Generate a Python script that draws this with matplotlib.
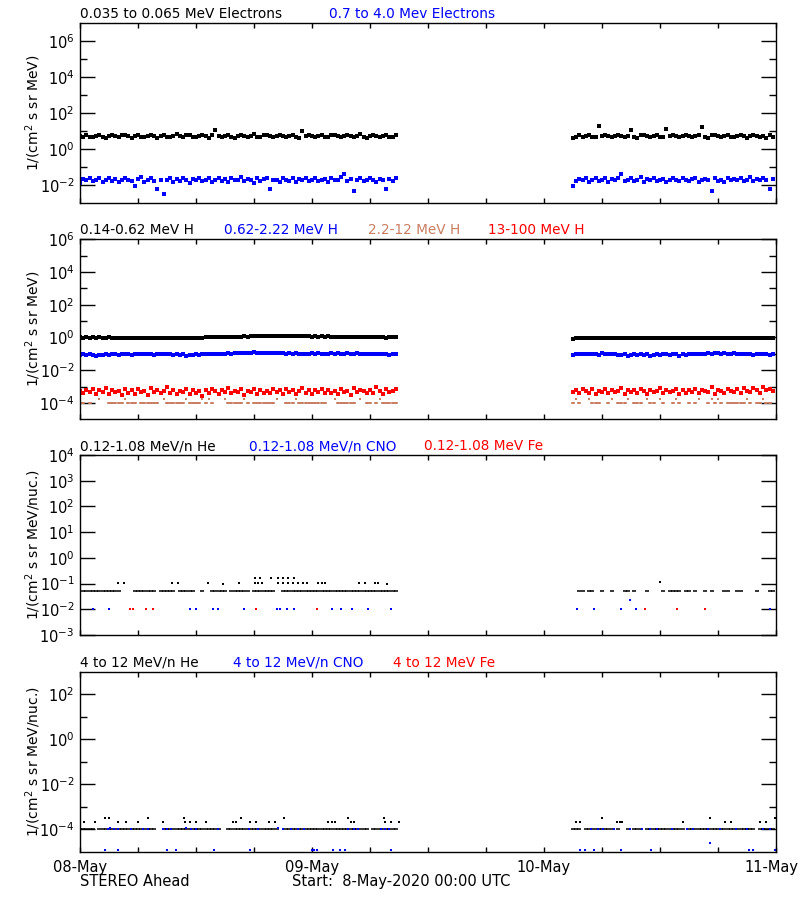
"""
STEREO Ahead in-situ particle fluxes, 08-May-2020 .. 11-May-2020.
Four stacked log panels in the style of the IDL summary plots.
"""
import numpy as np
import matplotlib
matplotlib.use("Agg")
import matplotlib.pyplot as plt
from matplotlib.ticker import FixedLocator, FuncFormatter, NullFormatter
from matplotlib.transforms import ScaledTranslation

# Time axis: hours since 08-May 00:00 UTC, 20 min cadence, two data intervals
N1, N2 = 99, 63
T1 = np.arange(N1) / 3.0
T2 = 51.0 + np.arange(N2) / 3.0

BROWN = "#c97d62"

# ---- panel 1: electrons ----------------------------------------------------
elec_lo_1 = [5.6, 4.9, 6.2, 5.1, 4.6, 5.8, 6.5, 5.0, 4.4, 5.5,
             6.1, 5.3, 4.8, 5.9, 6.6, 5.2, 4.5, 5.7, 6.3, 5.0,
             4.7, 5.4, 6.0, 5.6, 4.3, 5.8, 6.4, 5.1, 4.9, 5.5,
             6.8, 5.3, 4.6, 5.9, 6.2, 5.0, 4.8, 5.7, 6.5, 5.4,
             4.5, 6.0, 12.5, 5.2, 4.9, 5.6, 6.3, 5.1, 4.4, 5.8,
             6.1, 5.3, 4.7, 5.5, 6.7, 5.0, 4.8, 5.9, 6.2, 5.4,
             4.6, 5.7, 6.4, 5.2, 4.9, 5.6, 6.0, 5.1, 4.5, 11.0,
             5.8, 6.3, 5.3, 4.7, 5.5, 6.6, 5.0, 4.8, 5.9, 6.1,
             5.4, 4.6, 5.7, 6.4, 5.2, 4.9, 5.6, 7.2, 5.1, 4.5,
             5.8, 6.2, 5.3, 4.7, 5.5, 6.5, 5.0, 4.8, 5.9]
elec_lo_2 = [4.2, 5.1, 5.9, 4.8, 5.5, 6.2, 5.0, 4.6, 20.0, 5.7,
             6.3, 5.2, 4.7, 5.8, 6.0, 5.4, 4.9, 5.6, 11.8, 5.1,
             4.5, 5.9, 6.4, 5.3, 4.8, 5.5, 6.1, 5.0, 4.7, 13.5,
             5.8, 6.5, 5.2, 4.6, 5.7, 6.2, 5.4, 4.9, 5.6, 6.0,
             17.0, 5.1, 4.5, 5.9, 6.3, 5.3, 4.8, 5.5, 6.6, 5.0,
             4.7, 5.8, 6.1, 5.2, 4.4, 5.7, 6.4, 5.4, 4.9, 5.6,
             4.3, 5.9, 5.1]
elec_hi_1 = [0.014, 0.022, 0.019, 0.026, 0.017, 0.021, 0.024, 0.016, 0.020, 0.027,
             0.018, 0.023, 0.015, 0.021, 0.025, 0.019, 0.017, 0.009, 0.022, 0.028,
             0.016, 0.020, 0.024, 0.018, 0.0063, 0.021, 0.0035, 0.019, 0.026, 0.015,
             0.022, 0.018, 0.025, 0.020, 0.013, 0.023, 0.019, 0.027, 0.017, 0.021,
             0.024, 0.016, 0.020, 0.026, 0.018, 0.022, 0.015, 0.025, 0.019, 0.021,
             0.028, 0.017, 0.023, 0.020, 0.014, 0.024, 0.018, 0.022, 0.026, 0.0066,
             0.019, 0.021, 0.016, 0.025, 0.020, 0.018, 0.027, 0.015, 0.022, 0.019,
             0.024, 0.017, 0.021, 0.026, 0.018, 0.020, 0.023, 0.016, 0.025, 0.019,
             0.021, 0.028, 0.045, 0.018, 0.022, 0.0048, 0.020, 0.024, 0.017, 0.021,
             0.026, 0.019, 0.015, 0.023, 0.020, 0.0066, 0.022, 0.018, 0.025]
elec_hi_2 = [0.009, 0.017, 0.022, 0.019, 0.025, 0.016, 0.021, 0.024, 0.018, 0.020,
             0.027, 0.015, 0.022, 0.019, 0.026, 0.045, 0.018, 0.021, 0.024, 0.017,
             0.020, 0.028, 0.016, 0.022, 0.019, 0.025, 0.018, 0.021, 0.023, 0.015,
             0.020, 0.026, 0.019, 0.017, 0.024, 0.021, 0.018, 0.022, 0.027, 0.016,
             0.020, 0.023, 0.019, 0.0048, 0.025, 0.018, 0.021, 0.016, 0.024, 0.020,
             0.022, 0.019, 0.026, 0.017, 0.021, 0.030, 0.018, 0.023, 0.020, 0.025,
             0.019, 0.006, 0.022]

# ---- panel 2: protons ------------------------------------------------------
prot_lo_1 = [1.02, 0.98, 1.05, 0.96, 1.00, 0.97, 1.03, 0.95, 0.99, 1.01,
             0.96, 0.93, 0.98, 0.95, 0.97, 0.92, 0.96, 0.94, 0.99, 0.93,
             0.95, 0.97, 0.91, 0.96, 0.94, 0.98, 0.92, 0.95, 0.93, 0.97,
             0.90, 0.94, 0.96, 0.92, 0.98, 0.95, 0.93, 0.99, 0.96, 1.01,
             1.05, 1.08, 1.03, 1.10, 1.06, 1.12, 1.08, 1.05, 1.11, 1.07,
             1.13, 1.16, 1.12, 1.18, 1.15, 1.20, 1.17, 1.22, 1.19, 1.24,
             1.21, 1.18, 1.25, 1.20, 1.23, 1.17, 1.22, 1.19, 1.15, 1.21,
             1.16, 1.18, 1.13, 1.17, 1.14, 1.19, 1.12, 1.15, 1.10, 1.14,
             1.11, 1.08, 1.13, 1.09, 1.12, 1.06, 1.10, 1.07, 1.11, 1.05,
             1.09, 1.04, 1.08, 1.02, 1.06, 0.98, 1.03, 1.00, 1.10]
prot_lo_2 = [0.86, 0.90, 0.88, 0.92, 0.87, 0.91, 0.89, 0.93, 0.88, 0.90,
             0.94, 0.89, 0.92, 0.87, 0.95, 0.90, 0.93, 0.88, 0.91, 0.96,
             0.89, 0.92, 0.87, 0.94, 0.90, 0.93, 0.88, 0.95, 0.91, 0.89,
             0.93, 0.90, 0.96, 0.88, 0.92, 0.94, 0.89, 0.91, 0.95, 0.90,
             0.93, 0.87, 0.92, 0.96, 0.90, 0.94, 0.88, 0.91, 0.95, 0.89,
             0.93, 0.90, 0.97, 0.92, 0.88, 0.94, 0.91, 0.89, 0.93, 0.90,
             0.92, 0.88, 0.91]
prot_mid_1 = [0.085, 0.092, 0.080, 0.095, 0.088, 0.078, 0.090, 0.083, 0.096, 0.087,
              0.092, 0.098, 0.089, 0.101, 0.094, 0.097, 0.091, 0.103, 0.095, 0.099,
              0.093, 0.100, 0.096, 0.090, 0.098, 0.094, 0.102, 0.092, 0.097, 0.089,
              0.095, 0.088, 0.093, 0.079, 0.091, 0.087, 0.094, 0.090, 0.096, 0.092,
              0.098, 0.094, 0.101, 0.096, 0.104, 0.099, 0.107, 0.102, 0.110, 0.105,
              0.112, 0.108, 0.118, 0.113, 0.121, 0.116, 0.109, 0.115, 0.119, 0.112,
              0.108, 0.114, 0.105, 0.111, 0.103, 0.109, 0.100, 0.106, 0.098, 0.104,
              0.101, 0.097, 0.105, 0.099, 0.108, 0.102, 0.096, 0.104, 0.110, 0.100,
              0.106, 0.098, 0.103, 0.109, 0.101, 0.096, 0.105, 0.100, 0.094, 0.102,
              0.098, 0.104, 0.092, 0.100, 0.096, 0.102, 0.089, 0.097, 0.093]
prot_mid_2 = [0.088, 0.092, 0.095, 0.101, 0.097, 0.103, 0.094, 0.099, 0.091, 0.105,
              0.098, 0.093, 0.100, 0.096, 0.090, 0.087, 0.094, 0.072, 0.089, 0.095,
              0.091, 0.097, 0.086, 0.093, 0.075, 0.090, 0.096, 0.088, 0.094, 0.092,
              0.089, 0.099, 0.093, 0.076, 0.095, 0.091, 0.098, 0.094, 0.101, 0.097,
              0.104, 0.099, 0.107, 0.102, 0.109, 0.105, 0.100, 0.108, 0.103, 0.098,
              0.106, 0.101, 0.096, 0.103, 0.099, 0.094, 0.090, 0.097, 0.093, 0.099,
              0.095, 0.091, 0.096]
# 13-100 MeV H, in units of 1e-4
prot_hi_1 = [5.2, 3.8, 6.5, 4.4, 7.1, 3.5, 5.8, 4.9, 8.2, 3.3,
             6.0, 4.6, 5.4, 2.9, 7.5, 4.1, 5.9, 3.6, 6.8, 4.8,
             5.1, 3.2, 7.8, 4.5, 6.2, 3.9, 5.6, 9.0, 4.2, 6.4,
             3.4, 5.3, 4.7, 7.0, 3.7, 6.1, 4.3, 5.5, 2.8, 6.6,
             4.0, 7.3, 5.0, 3.5, 6.3, 4.6, 8.5, 3.9, 5.7, 4.4,
             6.9, 3.1, 5.2, 4.8, 7.6, 3.6, 6.0, 4.1, 5.4, 3.8,
             6.7, 4.5, 5.8, 3.3, 7.2, 4.9, 6.1, 3.7, 5.5, 8.0,
             4.2, 6.4, 3.5, 5.9, 4.6, 7.4, 3.9, 6.2, 4.3, 5.1,
             3.6, 6.8, 4.7, 5.6, 3.2, 7.7, 4.4, 6.0, 5.0, 3.8,
             6.5, 4.1, 9.5, 5.3, 3.4, 6.9, 4.8, 5.7, 7.0]
prot_hi_2 = [4.6, 6.2, 3.9, 7.4, 5.1, 4.3, 6.8, 3.6, 5.7, 4.9,
             7.1, 3.8, 6.0, 4.5, 5.4, 8.0, 3.4, 6.5, 4.7, 5.9,
             4.1, 7.3, 5.0, 3.7, 6.3, 4.4, 5.6, 8.4, 3.9, 6.1,
             4.8, 5.3, 7.6, 3.5, 6.6, 4.2, 5.8, 4.9, 7.0, 3.8,
             6.4, 5.1, 4.5, 8.8, 3.6, 6.2, 5.5, 4.0, 7.2, 5.0,
             4.6, 6.9, 3.9, 8.1, 5.3, 4.4, 7.7, 5.8, 4.1, 9.8,
             6.0, 7.4, 5.2]
# 2.2-12 MeV H: 0 = no data, 1 = one-count level, 2 = two-count level
prot_2to12_1 = [1, 1, 0, 1, 0, 0, 2, 0, 0, 1,
                1, 1, 1, 1, 2, 1, 1, 1, 0, 1,
                1, 1, 1, 1, 1, 0, 2, 1, 1, 1,
                1, 1, 1, 2, 1, 1, 1, 1, 2, 1,
                2, 1, 0, 0, 0, 2, 1, 1, 1, 1,
                1, 2, 1, 0, 1, 1, 1, 1, 1, 1,
                1, 2, 0, 0, 1, 1, 1, 2, 1, 1,
                1, 1, 1, 1, 1, 1, 1, 0, 0, 2,
                1, 1, 1, 1, 1, 1, 0, 2, 0, 1,
                1, 0, 1, 2, 1, 1, 1, 1, 1]
prot_2to12_2 = [1, 2, 1, 0, 0, 2, 1, 1, 1, 0,
                0, 1, 2, 0, 1, 1, 1, 2, 0, 1,
                1, 1, 0, 2, 1, 1, 0, 2, 1, 0,
                0, 1, 2, 1, 0, 0, 1, 0, 1, 2,
                0, 0, 1, 2, 1, 2, 1, 0, 1, 1,
                1, 1, 1, 1, 2, 1, 0, 1, 1, 2,
                1, 1, 0]
prot_2to12_levels = [np.nan, 0.95e-4, 1.8e-4]

# ---- panel 3: 0.12-1.08 MeV/n ions ------------------------------------------
he_lo_floor_1 = [0, 1, 1, 1, 1, 1, 1, 1, 1, 1,
                 1, 1, 1, 0, 0, 0, 0, 1, 1, 1,
                 1, 1, 1, 1, 0, 1, 1, 1, 1, 1,
                 0, 1, 1, 1, 1, 1, 0, 0, 1, 0,
                 0, 1, 1, 1, 1, 1, 0, 1, 1, 1,
                 1, 1, 1, 0, 1, 1, 1, 1, 1, 1,
                 1, 0, 0, 1, 1, 1, 1, 1, 1, 1,
                 1, 1, 1, 1, 1, 1, 1, 1, 1, 1,
                 1, 1, 1, 1, 1, 1, 1, 1, 1, 1,
                 1, 1, 1, 1, 1, 1, 1, 1, 1]
he_lo_floor_2 = [0, 0, 1, 1, 0, 1, 1, 0, 0, 1,
                 0, 0, 1, 0, 0, 0, 1, 1, 0, 1,
                 0, 0, 0, 1, 0, 0, 0, 0, 1, 0,
                 1, 1, 1, 1, 0, 1, 1, 0, 1, 0,
                 0, 1, 0, 1, 0, 0, 0, 1, 1, 0,
                 0, 1, 1, 0, 0, 0, 0, 1, 0, 0,
                 0, 1, 1]
he_lo_floor_level = 0.053
he_lo_peak_t = [3.9, 4.5, 9.5, 10.1, 13.2, 14.8, 16.4, 18.1, 18.4, 18.8,
                20.5, 21.0, 21.5, 22.0, 22.6, 23.1, 23.5, 24.6, 25.0, 25.3,
                28.9, 29.5, 30.5, 30.8, 31.8, 60.0,
                18.1, 18.6, 19.8, 20.5, 21.0, 21.5, 22.1]
he_lo_peak_v = [0.11, 0.11, 0.11, 0.11, 0.11, 0.10, 0.11, 0.11, 0.11, 0.11,
                0.11, 0.11, 0.11, 0.11, 0.11, 0.11, 0.11, 0.11, 0.11, 0.11,
                0.11, 0.11, 0.11, 0.11, 0.10, 0.12,
                0.17, 0.16, 0.17, 0.17, 0.17, 0.17, 0.17]
cno_lo_t = [1.3, 3.0, 11.4, 12.0, 13.8, 14.3, 17.0, 20.4, 20.7, 21.4,
            22.1, 26.1, 27.0, 28.1, 29.8, 32.2, 51.4, 53.2, 56.0, 56.9,
            57.5, 71.4]
cno_lo_v = [0.0107] * 19 + [0.023, 0.0107, 0.0107]
fe_lo_t = [5.2, 5.5, 6.8, 7.5, 18.2, 24.5, 58.4, 61.8, 64.7]
fe_lo_v = [0.0107] * 9

# ---- panel 4: 4-12 MeV/n ions -----------------------------------------------
he_hi_floor_1 = [1, 1, 1, 1, 1, 0, 1, 1, 1, 1,
                 1, 1, 1, 1, 1, 1, 1, 1, 1, 1,
                 1, 1, 1, 1, 0, 0, 1, 1, 1, 1,
                 1, 1, 1, 1, 1, 1, 1, 1, 1, 1,
                 1, 1, 1, 1, 0, 0, 1, 1, 1, 1,
                 1, 1, 1, 1, 1, 1, 1, 1, 1, 1,
                 1, 1, 0, 0, 1, 1, 1, 1, 1, 1,
                 1, 1, 1, 1, 1, 1, 1, 1, 1, 1,
                 1, 1, 1, 1, 1, 1, 1, 1, 1, 1,
                 0, 1, 1, 1, 1, 1, 1, 1, 1]
he_hi_floor_2 = [1, 1, 1, 0, 1, 1, 1, 1, 1, 1,
                 1, 1, 1, 0, 1, 0, 0, 1, 0, 1,
                 1, 1, 0, 1, 1, 1, 1, 1, 1, 1,
                 1, 1, 1, 1, 1, 0, 1, 1, 1, 1,
                 1, 1, 1, 1, 1, 1, 1, 1, 1, 1,
                 1, 1, 1, 1, 1, 1, 1, 0, 1, 1,
                 1, 1, 1]
he_hi_floor_level = 1.0e-4
he_hi_up_t = [0.4, 1.5, 2.6, 3.0, 3.9, 4.8, 6.0, 7.0, 8.6, 10.8,
              10.9, 11.4, 12.0, 13.0, 15.8, 16.1, 16.7, 17.6, 18.2, 19.5,
              20.2, 21.1, 25.7, 26.1, 26.4, 27.7, 28.0, 28.3, 31.4, 31.6,
              32.2, 33.0, 51.3, 51.7, 54.0, 55.5, 55.9, 56.1, 62.4, 65.2,
              66.7, 67.3, 70.3, 71.0, 71.9]
he_hi_up_v = [2e-4, 2e-4, 3e-4, 3e-4, 2e-4, 2e-4, 2e-4, 3e-4, 2e-4, 3e-4,
              2e-4, 2e-4, 2e-4, 2e-4, 2e-4, 2e-4, 3e-4, 2e-4, 2e-4, 2e-4,
              2e-4, 3e-4, 2e-4, 2e-4, 2e-4, 3e-4, 2e-4, 2e-4, 3e-4, 2e-4,
              2e-4, 2e-4, 2e-4, 2e-4, 3e-4, 2e-4, 2e-4, 2e-4, 2e-4, 3e-4,
              2e-4, 2e-4, 2e-4, 2e-4, 3e-4]
cno_hi_t = [2.9, 3.1, 3.5, 3.9, 5.3, 6.5, 7.0, 8.6, 9.0, 9.4,
            11.0, 11.5, 12.0, 14.3, 17.5, 18.4, 20.5, 21.0, 21.8, 22.5,
            23.2, 27.7, 28.3, 28.8, 31.1, 31.6, 32.0,
            52.9, 53.6, 54.1, 55.2, 56.9, 58.1, 59.0, 59.7, 61.2, 62.8,
            63.4, 65.0, 66.2, 67.9, 69.0, 70.7, 71.4]
cno_hi_v = [1.0e-4, 1.1e-4, 1.0e-4, 1.0e-4, 1.0e-4, 1.0e-4, 1.0e-4, 1.0e-4, 1.0e-4, 1.0e-4,
            1.1e-4, 1.0e-4, 1.0e-4, 1.0e-4, 1.0e-4, 1.0e-4, 1.1e-4, 1.0e-4, 1.0e-4, 1.0e-4,
            1.0e-4, 1.0e-4, 1.0e-4, 1.0e-4, 1.0e-4, 1.0e-4, 1.0e-4,
            1.0e-4, 1.0e-4, 1.0e-4, 1.0e-4, 1.0e-4, 1.0e-4, 1.0e-4, 1.0e-4, 1.0e-4, 1.0e-4,
            1.0e-4, 1.0e-4, 1.0e-4, 1.0e-4, 1.0e-4, 1.0e-4, 1.0e-4]
cno_hi_low_t = [2.6, 3.9, 9.0, 9.9, 13.9, 17.6, 24.0, 24.2, 24.5, 26.2,
                26.9, 27.4, 32.2, 51.7, 52.2, 53.2, 56.0, 59.1, 65.2, 69.2,
                69.6, 71.9]
cno_hi_low_v = [1.2e-5] * 18 + [2.5e-5, 1.2e-5, 1.2e-5, 1.2e-5]

DAY_LABELS = ["08-May", "09-May", "10-May", "11-May"]

FIG_W, FIG_H = 800, 900
AX_LEFT, AX_RIGHT = 80, 776


def from_codes(codes, levels):
    return np.array([levels[c] for c in codes], dtype=float)


def dots(ax, t, v, color, ms=1.8, marker="s"):
    ax.plot(t, v, linestyle="none", marker=marker, ms=ms, mew=0,
            color=color, clip_on=True)


def floor(ax, t, codes, level, color):
    v = np.where(np.array(codes) > 0, level, np.nan)
    ax.plot(t, v, linestyle="none", marker="_", ms=3.2, mew=1.1, color=color)


def exp_label(y, pos):
    return r"$10^{%d}$" % int(round(np.log10(y)))


def setup_axis(ax, ylim, majors, minors, ylabel, titles, top_px):
    ax.set_yscale("log")
    ax.set_ylim(*ylim)
    ax.set_xlim(0, 72)
    ax.yaxis.set_major_locator(FixedLocator(majors))
    ax.yaxis.set_minor_locator(FixedLocator(minors))
    ax.yaxis.set_major_formatter(FuncFormatter(exp_label))
    ax.yaxis.set_minor_formatter(NullFormatter())
    ax.tick_params(axis="y", which="major", direction="in", length=11,
                   width=1.0, left=True, right=True, labelsize=10.5, pad=4)
    ax.tick_params(axis="y", which="minor", direction="in", length=5.2,
                   width=1.0, left=True, right=True)
    ax.xaxis.set_major_locator(FixedLocator([0, 24, 48, 72]))
    ax.xaxis.set_minor_locator(FixedLocator([6, 12, 18, 30, 36, 42, 54, 60, 66]))
    ax.tick_params(axis="x", which="both", direction="in", length=3.5,
                   width=1.0, top=True, bottom=True, labelsize=10.5, pad=6)
    ax.set_xticklabels([])
    for sp in ax.spines.values():
        sp.set_linewidth(1.0)

    ax.figure.text(33 / FIG_W, 1 - (top_px + 90) / FIG_H, ylabel, rotation=90,
                   ha="center", va="center", fontsize=10)
    for text, color, x_px in titles:
        ax.figure.text(x_px / FIG_W, 1 - (top_px - 5) / FIG_H, text,
                       color=color, fontsize=9.8, ha="left", va="baseline")


def main():
    plt.rcParams["mathtext.fontset"] = "dejavusans"
    fig = plt.figure(figsize=(8, 9), dpi=100)

    tops = [23.3, 239.3, 455.0, 671.7]
    height = 180.0
    axes = []
    for top in tops:
        ax = fig.add_axes([AX_LEFT / FIG_W, 1 - (top + height) / FIG_H,
                           (AX_RIGHT - AX_LEFT) / FIG_W, height / FIG_H])
        axes.append(ax)

    flux = r"1/(cm$^2$ s sr MeV)"
    flux_n = r"1/(cm$^2$ s sr MeV/nuc.)"

    # Panel 1 - electrons
    ax = axes[0]
    setup_axis(ax, (1e-3, 1e7), [1e-2, 1e0, 1e2, 1e4, 1e6],
               [1e-1, 1e1, 1e3, 1e5], flux,
               [("0.035 to 0.065 MeV Electrons", "black", 80),
                ("0.7 to 4.0 Mev Electrons", "blue", 329)], tops[0])
    dots(ax, T1, elec_lo_1, "black", ms=2.3)
    dots(ax, T2, elec_lo_2, "black", ms=2.3)
    dots(ax, T1, elec_hi_1, "blue", ms=2.3)
    dots(ax, T2, elec_hi_2, "blue", ms=2.3)

    # Panel 2 - protons
    ax = axes[1]
    setup_axis(ax, (1e-5, 1e6), [1e-4, 1e-2, 1e0, 1e2, 1e4, 1e6],
               [1e-3, 1e-1, 1e1, 1e3, 1e5], flux,
               [("0.14-0.62 MeV H", "black", 80),
                ("0.62-2.22 MeV H", "blue", 224),
                ("2.2-12 MeV H", BROWN, 368),
                ("13-100 MeV H", "red", 488)], tops[1])
    floor(ax, T1, [1 if c == 1 else 0 for c in prot_2to12_1], 0.95e-4, BROWN)
    floor(ax, T2, [1 if c == 1 else 0 for c in prot_2to12_2], 0.95e-4, BROWN)
    dots(ax, T1, from_codes(prot_2to12_1, prot_2to12_levels), BROWN, ms=1.6)
    dots(ax, T2, from_codes(prot_2to12_2, prot_2to12_levels), BROWN, ms=1.6)
    dots(ax, T1, np.array(prot_hi_1) * 1e-4, "red", ms=2.3)
    dots(ax, T2, np.array(prot_hi_2) * 1e-4, "red", ms=2.3)
    dots(ax, T1, prot_mid_1, "blue", ms=2.6)
    dots(ax, T2, prot_mid_2, "blue", ms=2.6)
    dots(ax, T1, prot_lo_1, "black", ms=2.6)
    dots(ax, T2, prot_lo_2, "black", ms=2.6)

    # Panel 3 - low energy ions
    ax = axes[2]
    setup_axis(ax, (1e-3, 1e4), [10.0 ** k for k in range(-3, 5)], [],
               flux_n,
               [("0.12-1.08 MeV/n He", "black", 80),
                ("0.12-1.08 MeV/n CNO", "blue", 249),
                ("0.12-1.08 MeV Fe", "red", 424)], tops[2])
    floor(ax, T1, he_lo_floor_1, he_lo_floor_level, "black")
    floor(ax, T2, he_lo_floor_2, he_lo_floor_level, "black")
    dots(ax, he_lo_peak_t, he_lo_peak_v, "black", ms=1.5)
    dots(ax, cno_lo_t, cno_lo_v, "blue", ms=1.8)
    dots(ax, fe_lo_t, fe_lo_v, "red", ms=1.8)

    # Panel 4 - high energy ions
    ax = axes[3]
    setup_axis(ax, (1e-5, 1e3), [1e-4, 1e-2, 1e0, 1e2],
               [1e-3, 1e-1, 1e1], flux_n,
               [("4 to 12 MeV/n He", "black", 80),
                ("4 to 12 MeV/n CNO", "blue", 233),
                ("4 to 12 MeV Fe", "red", 393)], tops[3])
    floor(ax, T1, he_hi_floor_1, he_hi_floor_level, "black")
    floor(ax, T2, he_hi_floor_2, he_hi_floor_level, "black")
    dots(ax, he_hi_up_t, he_hi_up_v, "black", ms=1.5)
    dots(ax, cno_hi_t, cno_hi_v, "blue", ms=1.5)
    dots(ax, cno_hi_low_t, cno_hi_low_v, "blue", ms=1.5)
    ax.set_xticklabels(DAY_LABELS)
    # last day label sits on the right edge; keep it inside the picture
    last = ax.get_xticklabels()[-1]
    last.set_horizontalalignment("right")
    last.set_transform(last.get_transform()
                       + ScaledTranslation(0.22, 0, fig.dpi_scale_trans))

    fig.text(80 / FIG_W, 1 - 886 / FIG_H, "STEREO Ahead", fontsize=10.5,
             ha="left", va="baseline")
    fig.text(292 / FIG_W, 1 - 886 / FIG_H, "Start:  8-May-2020 00:00 UTC",
             fontsize=10.5, ha="left", va="baseline")

    fig.savefig("out.png", dpi=100)


if __name__ == "__main__":
    main()
